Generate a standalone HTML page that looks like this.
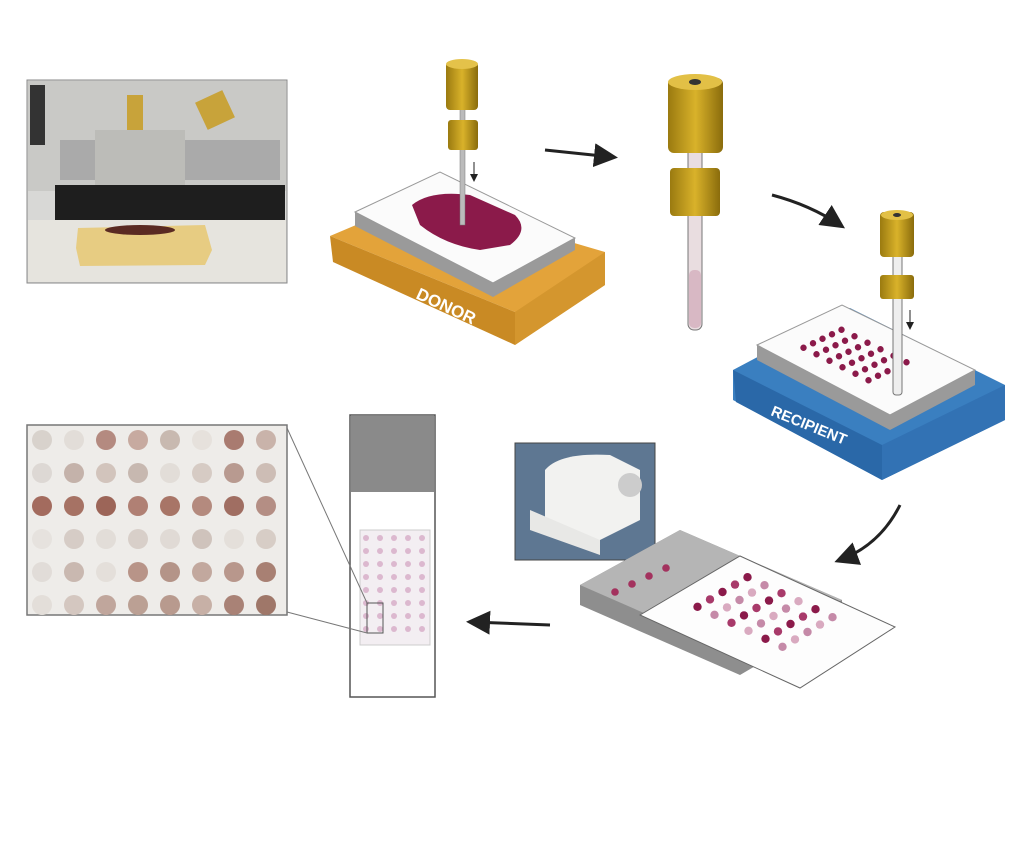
<!DOCTYPE html>
<html><head><meta charset="utf-8"><style>
html,body{margin:0;padding:0;background:#fff;}
svg{display:block;font-family:"Liberation Sans",sans-serif;}
</style></head><body>
<svg width="1022" height="844" viewBox="0 0 1022 844">
<defs>
<marker id="ah" markerWidth="8" markerHeight="8" refX="6" refY="4" orient="auto"><path d="M0,0 L8,4 L0,8 z" fill="#222"/></marker>
<linearGradient id="gold" x1="0" x2="1"><stop offset="0" stop-color="#9a7a10"/><stop offset="0.5" stop-color="#d9b22a"/><stop offset="1" stop-color="#8a6c0c"/></linearGradient>
</defs>

<g>
<rect x="27" y="80" width="260" height="203" fill="#d8d8d6" stroke="#888"/>
<rect x="28" y="81" width="258" height="110" fill="#c9c9c6"/>
<rect x="30" y="85" width="15" height="60" fill="#333"/>
<rect x="60" y="140" width="220" height="40" fill="#aaa"/>
<rect x="55" y="185" width="230" height="35" fill="#1e1e1e"/>
<rect x="95" y="130" width="90" height="55" fill="#bcbcb8"/>
<rect x="127" y="95" width="16" height="35" fill="#c8a33a"/>
<rect x="200" y="95" width="30" height="30" fill="#c8a33a" transform="rotate(-25 215 110)"/>
<rect x="28" y="220" width="258" height="62" fill="#e6e4de"/>
<path d="M78,228 L205,225 L212,250 L205,265 L80,266 L76,248 Z" fill="#e7cc82"/>
<ellipse cx="140" cy="230" rx="35" ry="5" fill="#5a2a22"/>
</g>

<g>
<path d="M330,236 L420,198 L605,252 L605,285 L515,345 L515,312 Z" fill="#e3a33a"/>
<path d="M330,236 L515,312 L515,345 L333,262 Z" fill="#c98a24"/>
<path d="M515,312 L605,252 L605,285 L515,345 Z" fill="#d4962e"/>
<path d="M355,212 L440,172 L575,238 L575,250 L493,297 L355,226 Z" fill="#9a9a9a"/>
<path d="M355,212 L440,172 L575,238 L493,283 Z" fill="#fbfbfb" stroke="#999"/>
<path d="M412,205 Q430,190 470,195 L515,215 Q530,230 510,245 L480,250 Q445,245 420,225 Z" fill="#8b1a4a"/>
<text x="415" y="298" fill="#fff" font-size="17" font-weight="bold" transform="rotate(25 415 298)">DONOR</text>
</g>
<g>
<rect x="460" y="105" width="5" height="120" fill="#bbb" stroke="#777" stroke-width="0.5"/>
<rect x="446" y="62" width="32" height="48" rx="4" fill="url(#gold)"/>
<ellipse cx="462" cy="64" rx="16" ry="5" fill="#e4c24a"/>
<rect x="448" y="120" width="30" height="30" rx="3" fill="url(#gold)"/>
<path d="M474,162 L474,180" stroke="#222" marker-end="url(#ah)"/>
</g>
<path d="M545,150 L612,157" stroke="#222" stroke-width="3" fill="none" marker-end="url(#ah)"/>

<g>
<rect x="688" y="140" width="14" height="190" rx="6" fill="#e9dde0" stroke="#777"/>
<rect x="689" y="270" width="12" height="58" rx="5" fill="#d8b8c4"/>
<rect x="668" y="78" width="55" height="75" rx="6" fill="url(#gold)"/>
<ellipse cx="695" cy="82" rx="27" ry="8" fill="#e2c046"/>
<ellipse cx="695" cy="82" rx="6" ry="3" fill="#333"/>
<rect x="670" y="168" width="50" height="48" rx="4" fill="url(#gold)"/>
</g>
<path d="M772,195 Q810,205 840,225" stroke="#222" stroke-width="3" fill="none" marker-end="url(#ah)"/>

<g>
<path d="M733,370 L850,308 L1005,385 L1005,420 L882,480 L733,400 Z" fill="#3a7fc0"/>
<path d="M733,370 L882,445 L882,480 L736,402 Z" fill="#2a68a8"/>
<path d="M882,445 L1005,385 L1005,420 L882,480 Z" fill="#3272b4"/>
<path d="M757,345 L842,305 L975,370 L975,385 L890,430 L757,360 Z" fill="#9a9a9a"/>
<path d="M757,345 L842,305 L975,370 L890,415 Z" fill="#fbfbfb" stroke="#999"/>
<text x="770" y="415" fill="#fff" font-size="15" font-weight="bold" transform="rotate(22 770 415)">RECIPIENT</text>
<g id="rdots"></g>
</g>
<g>
<rect x="893" y="250" width="9" height="145" rx="3" fill="#eee" stroke="#777"/>
<rect x="880" y="212" width="34" height="45" rx="4" fill="url(#gold)"/>
<ellipse cx="897" cy="215" rx="16" ry="5" fill="#e2c046"/>
<ellipse cx="897" cy="215" rx="4" ry="2" fill="#333"/>
<rect x="880" y="275" width="34" height="24" rx="3" fill="url(#gold)"/>
<path d="M910,310 L910,328" stroke="#222" marker-end="url(#ah)"/>
</g>
<path d="M900,505 Q880,545 840,560" stroke="#222" stroke-width="3" fill="none" marker-end="url(#ah)"/>

<g>
<rect x="515" y="443" width="140" height="117" fill="#5e7792" stroke="#444"/>
<path d="M545,470 Q560,452 610,455 L640,470 L640,520 L590,545 L545,530 Z" fill="#f2f2f0"/>
<path d="M530,510 L600,540 L600,555 L530,530 Z" fill="#e8e8e6"/>
<circle cx="630" cy="485" r="12" fill="#ccc"/>
</g>

<g>
<path d="M580,585 L680,530 L842,600 L842,615 L740,675 L580,605 Z" fill="#8e8e8e"/>
<path d="M580,585 L680,530 L842,600 L740,655 Z" fill="#b5b5b5"/>
<path d="M640,615 L740,556 L895,627 L800,688 Z" fill="#fdfdfd" stroke="#666"/>
<g id="sdots"></g>
<g id="tdots"></g>
</g>
<path d="M550,625 L472,622" stroke="#222" stroke-width="3" fill="none" marker-end="url(#ah)"/>

<g>
<rect x="350" y="415" width="85" height="282" fill="#fff" stroke="#555" stroke-width="1.5"/>
<rect x="351" y="416" width="83" height="76" fill="#8a8a8a"/>
<rect x="360" y="530" width="70" height="115" fill="#f3eef2" stroke="#ccc"/>
<g id="slidedots"></g>
<rect x="367" y="603" width="16" height="30" fill="none" stroke="#555"/>
</g>
<line x1="367" y1="603" x2="287" y2="428" stroke="#777"/>
<line x1="367" y1="633" x2="287" y2="612" stroke="#777"/>

<g>
<rect x="27" y="425" width="260" height="190" fill="#eeece9" stroke="#777" stroke-width="1.5"/>
<g id="bigdots"></g>
</g>
</svg>
<script>
const ns="http://www.w3.org/2000/svg";
function dot(g,cx,cy,r,fill,name){const c=document.createElementNS(ns,"circle");c.setAttribute("cx",cx);c.setAttribute("cy",cy);c.setAttribute("r",r);c.setAttribute("fill",fill);


g.appendChild(c);}
// recipient dots: grid along slide axes
const rg=document.getElementById("rdots");
for(let i=0;i<6;i++)for(let j=0;j<5;j++){
  const x=855+(i-2.5)*13+(j-2)*9.5, y=355+(i-2.5)*6.5+(j-2)*-4.5;
  dot(rg,x,y,3.2,"#8b1a4a","recipient-core");}
// section dots
const sg=document.getElementById("sdots");
const cols=["#8b1a4a","#c58aa8","#a83a6a","#d9aac0"];
for(let i=0;i<6;i++)for(let j=0;j<5;j++){
  const x=765+(i-2.5)*17+(j-2)*12.5, y=612+(i-2.5)*8+(j-2)*-7.4;
  dot(sg,x,y,4.2,cols[(i+2*j)%4],"section-core");}
const tg=document.getElementById("tdots");
for(let i=0;i<4;i++)dot(tg,615+i*17,592-i*8,3.8,"#a3325e","block-core");
const sl=document.getElementById("slidedots");
for(let i=0;i<5;i++)for(let j=0;j<8;j++)dot(sl,366+i*14,538+j*13,3,"#dcb8cf","slide-core");
const bg=document.getElementById("bigdots");
const shades=[["#d8d2cc","#e2ddd8","#b48a80","#c7aaa0","#c8b9b0","#e6e1dc","#a97b70","#c9b3aa"],
["#ddd8d4","#c4b2aa","#d2c4bc","#c7b8b0","#e2ddd8","#d6cbc4","#b89a90","#cdbdb5"],
["#a36b5e","#a67264","#9c6558","#b08074","#a87567","#b48a7e","#a06e62","#b48e84"],
["#e6e2de","#d6ccc6","#e2ddd8","#d8cfc9","#e0dad5","#cfc3bc","#e4dfda","#d7cdc6"],
["#e1dcd8","#c9b8b0","#e4dfda","#b89488","#b49488","#c2a89e","#b8978c","#a88073"],
["#e3ded9","#d4c7c0","#c0a69c","#bba094","#b89a8e","#c7b0a6","#a98276","#9f7769"]];
for(let r=0;r<6;r++)for(let c=0;c<8;c++)dot(bg,42+c*32,440+r*33,10,shades[r][c],"magnified-core");
</script>
</body></html>
